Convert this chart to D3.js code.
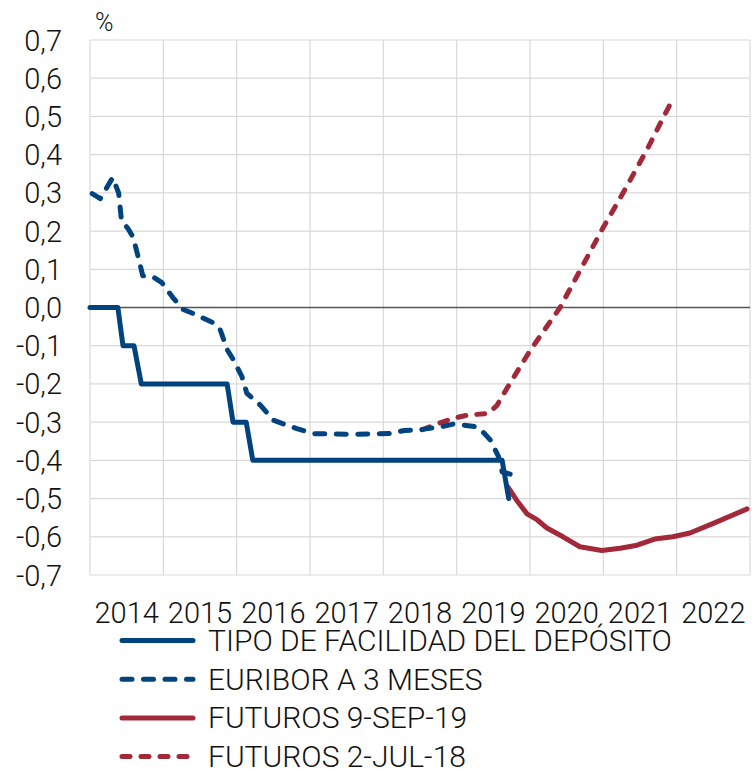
<!DOCTYPE html>
<html><head><meta charset="utf-8">
<script src="https://cdn.jsdelivr.net/npm/d3@7"></script>
<style>body{margin:0;background:#fff}svg{display:block}text{font-family:Roboto,"Liberation Sans",Arial,sans-serif;font-weight:300;fill:#111}</style>
</head><body><svg id="c" width="752" height="769"></svg>
<script>
// ---- data (x in fractional years) ----
const yearLabels = ["2014","2015","2016","2017","2018","2019","2020","2021","2022"];
const yTicks = [0.7,0.6,0.5,0.4,0.3,0.2,0.1,0,-0.1,-0.2,-0.3,-0.4,-0.5,-0.6,-0.7];
const depositX = [2014.0,2014.38,2014.45,2014.60,2014.70,2015.87,2015.95,2016.13,2016.22,2019.62,2019.71];
const depositY = [0,0,-0.1,-0.1,-0.2,-0.2,-0.3,-0.3,-0.4,-0.4,-0.5];
const euriborX = [2014.03,2014.14,2014.31,2014.39,2014.43,2014.52,2014.59,2014.66,2014.72,2014.86,2014.98,2015.13,2015.27,2015.41,2015.68,2015.77,2015.87,2015.95,2016.07,2016.14,2016.32,2016.50,2016.82,2017.05,2017.55,2018.07,2018.29,2018.48,2018.77,2018.95,2019.09,2019.28,2019.36,2019.46,2019.57,2019.62,2019.73];
const euriborY = [0.298,0.285,0.34,0.30,0.227,0.206,0.183,0.13,0.083,0.08,0.065,0.026,-0.005,-0.016,-0.04,-0.055,-0.11,-0.135,-0.18,-0.225,-0.255,-0.295,-0.317,-0.33,-0.332,-0.33,-0.322,-0.32,-0.313,-0.305,-0.308,-0.312,-0.326,-0.347,-0.39,-0.43,-0.436];
const fut19X = [2019.70,2019.82,2019.96,2020.10,2020.23,2020.45,2020.68,2020.98,2021.23,2021.46,2021.70,2021.95,2022.18,2022.50,2022.96];
const fut19Y = [-0.47,-0.505,-0.54,-0.556,-0.577,-0.60,-0.626,-0.636,-0.63,-0.622,-0.606,-0.60,-0.59,-0.565,-0.527];
const fut18X = [2018.53,2018.73,2018.95,2019.14,2019.43,2019.55,2019.69,2020.0,2020.41,2021.0,2021.27,2021.6,2021.94];
const fut18Y = [-0.32,-0.305,-0.29,-0.282,-0.277,-0.256,-0.21,-0.113,0.0,0.21,0.30,0.415,0.543];
const legendLabels = ["TIPO DE FACILIDAD DEL DEPÓSITO","EURIBOR A 3 MESES","FUTUROS 9-SEP-19","FUTUROS 2-JUL-18"];

const BLUE = "#00437f", RED = "#a3293a";
const svg = d3.select("#c");
const L = 90, R = 750, T = 40, B = 575;
const x = d3.scaleLinear().domain([2014, 2023]).range([L, R]);
const y = d3.scaleLinear().domain([-0.7, 0.7]).range([B, T]);
const fmt = v => d3.format(".1f")(v).replace(".", ",").replace("−","-");

// grid
const g = svg.append("g");
g.selectAll("line.h").data(yTicks).join("line")
  .attr("x1", L).attr("x2", R).attr("y1", d => y(d)).attr("y2", d => y(d))
  .attr("stroke", "#d9d9d9").attr("stroke-width", 1.2);
g.selectAll("line.v").data(d3.range(2014, 2024)).join("line")
  .attr("x1", d => x(d)).attr("x2", d => x(d)).attr("y1", T).attr("y2", B)
  .attr("stroke", "#d9d9d9").attr("stroke-width", 1.2);
g.append("line").attr("x1", L).attr("x2", R).attr("y1", y(0)).attr("y2", y(0))
  .attr("stroke", "#555").attr("stroke-width", 1.6);

// y labels
svg.selectAll("text.yl").data(yTicks).join("text")
  .attr("x", 62).attr("y", d => y(d) + 10.5).attr("text-anchor", "end")
  .attr("font-size", 29).text(d => fmt(d));
svg.append("text").attr("x", 95).attr("y", 31).attr("font-size", 25).text("%");

// x labels
svg.selectAll("text.xl").data(yearLabels).join("text")
  .attr("x", d => x(+d + 0.5)).attr("y", 623).attr("text-anchor", "middle")
  .attr("font-size", 29).text(d => d);

// lines
const line = d3.line().x(d => x(d[0])).y(d => y(d[1]));
const series = [
  {xs: depositX, ys: depositY, color: BLUE, dash: null},
  {xs: euriborX, ys: euriborY, color: BLUE, dash: "10,11.5"},
  {xs: fut19X, ys: fut19Y, color: RED, dash: null},
  {xs: fut18X, ys: fut18Y, color: RED, dash: "8,11"}
];
const drawOrder = [3, 1, 2, 0];
drawOrder.forEach(i => {
  const s = series[i];
  svg.append("path").datum(d3.zip(s.xs, s.ys)).attr("d", line)
    .attr("fill", "none").attr("stroke", s.color).attr("stroke-width", 5)
    .attr("stroke-linecap", "round").attr("stroke-linejoin", "round")
    .attr("stroke-dasharray", s.dash);
});

// legend
const lg = svg.append("g");
series.forEach((s, i) => {
  const yy = 640.5 + i * 38.7;
  lg.append("line").attr("x1", 122).attr("x2", 193).attr("y1", yy).attr("y2", yy)
    .attr("stroke", s.color).attr("stroke-width", 5).attr("stroke-linecap", "round")
    .attr("stroke-dasharray", s.dash);
  lg.append("text").attr("x", 208).attr("y", yy + 10.5).attr("font-size", 30).text(legendLabels[i]);
});
</script></body></html>
